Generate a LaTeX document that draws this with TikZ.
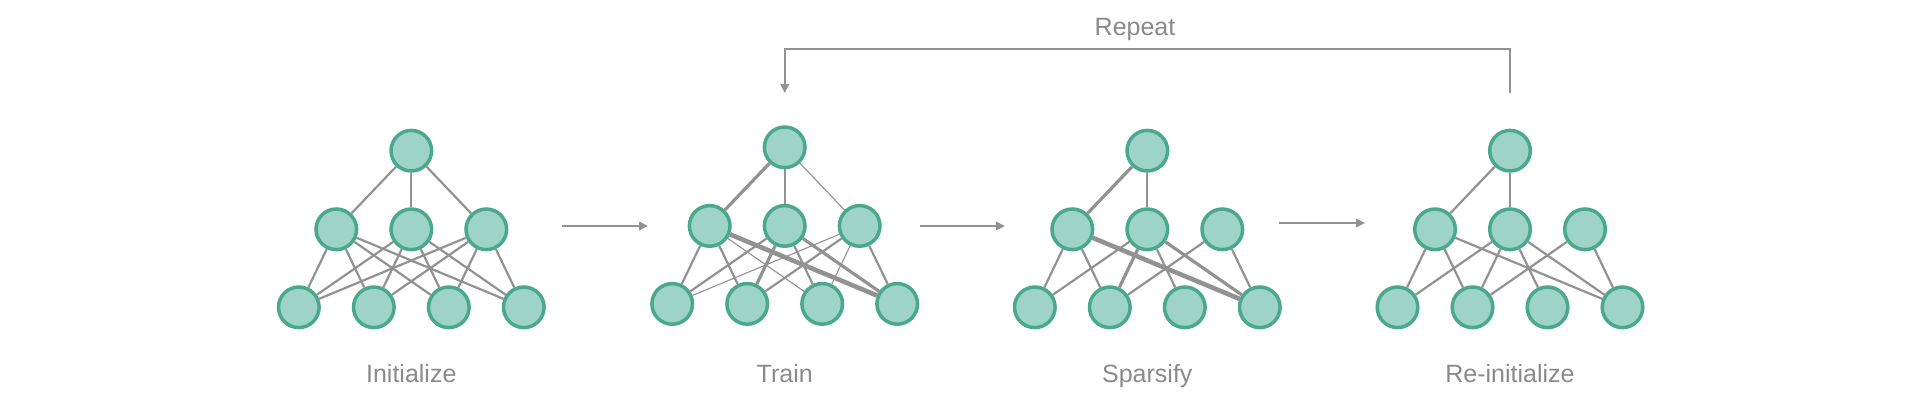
\documentclass[tikz,border=0pt]{standalone}
\usepackage{fontspec}
\setmainfont{Liberation Sans}
\usetikzlibrary{arrows.meta}
\definecolor{cellfill}{RGB}{157,212,199}
\definecolor{cellline}{RGB}{74,168,140}
\definecolor{wiregray}{RGB}{146,146,146}
\definecolor{textgray}{RGB}{138,138,138}

% one small network: #1 name, (#2,#3) centre of the top cell
\newcommand{\network}[3]{%
	\node[cell] (#1-t) at (#2,#3) {};
	\foreach \i/\dx in {1/-75,2/0,3/75}
		\node[cell] (#1-m\i) at (#2+\dx,#3+78.6) {};
	\foreach \i/\dx in {1/-112.5,2/-37.5,3/37.5,4/112.5}
		\node[cell] (#1-b\i) at (#2+\dx,#3+156.6) {};
}

\begin{document}
\begin{tikzpicture}[
		x=1pt,y=-1pt,
		cell/.style={circle,draw=cellline,fill=cellfill,line width=3.5pt,minimum size=40.6pt,inner sep=0pt},
		link/.style={draw=wiregray,line width=2.2pt},
		weak/.style={draw=wiregray,line width=1.1pt},
		strong/.style={draw=wiregray,line width=3.2pt},
		strongest/.style={draw=wiregray,line width=4.6pt},
		flow/.style={draw=wiregray,line width=2pt,-{Triangle[length=9pt,width=8.5pt]}},
		caption/.style={text=textgray,font=\fontsize{25}{30}\selectfont,anchor=base}
		]
		\useasboundingbox (0,0) rectangle (1920,400);
		
		\network{init}{411.3}{150.7}
		\network{train}{784.7}{147.3}
		\network{sparse}{1147.3}{150.7}
		\network{reinit}{1510}{150.7}
		
		% initialize: dense
		\foreach \m in {1,2,3} {
			\draw[link] (init-t) -- (init-m\m);
			\foreach \b in {1,...,4}
				\draw[link] (init-m\m) -- (init-b\b);
		}
		
		% train: weights of different size
		\draw[strong] (train-t) -- (train-m1);
		\draw[link] (train-t) -- (train-m2);
		\draw[weak] (train-t) -- (train-m3);
		\draw[link] (train-m1) -- (train-b1);
		\draw[link] (train-m1) -- (train-b2);
		\draw[weak] (train-m1) -- (train-b3);
		\draw[strongest] (train-m1) -- (train-b4);
		\draw[link] (train-m2) -- (train-b1);
		\draw[strong] (train-m2) -- (train-b2);
		\draw[link] (train-m2) -- (train-b3);
		\draw[strong] (train-m2) -- (train-b4);
		\draw[weak] (train-m3) -- (train-b1);
		\draw[link] (train-m3) -- (train-b2);
		\draw[weak] (train-m3) -- (train-b3);
		\draw[link] (train-m3) -- (train-b4);
		
		% sparsify: small weights removed
		\draw[strong] (sparse-t) -- (sparse-m1);
		\draw[link] (sparse-t) -- (sparse-m2);
		\draw[link] (sparse-m1) -- (sparse-b1);
		\draw[link] (sparse-m1) -- (sparse-b2);
		\draw[strongest] (sparse-m1) -- (sparse-b4);
		\draw[link] (sparse-m2) -- (sparse-b1);
		\draw[strong] (sparse-m2) -- (sparse-b2);
		\draw[link] (sparse-m2) -- (sparse-b3);
		\draw[strong] (sparse-m2) -- (sparse-b4);
		\draw[link] (sparse-m3) -- (sparse-b2);
		\draw[link] (sparse-m3) -- (sparse-b4);
		
		% re-initialize: same mask, fresh weights
		\foreach \a/\b in {t/m1,t/m2,m1/b1,m1/b2,m1/b4,m2/b1,m2/b2,m2/b3,m2/b4,m3/b2,m3/b4}
			\draw[link] (reinit-\a) -- (reinit-\b);
		
		% steps
		\coordinate (s1) at (562,226);
		\coordinate (e1) at (648,226);
		\coordinate (s2) at (920,226);
		\coordinate (e2) at (1005,226);
		\coordinate (s3) at (1279,223);
		\coordinate (e3) at (1365,223);
		\draw[flow] (s1) -- (e1);
		\draw[flow] (s2) -- (e2);
		\draw[flow] (s3) -- (e3);
		
		% loop back
		\coordinate (back-from) at (1510,93);
		\coordinate (back-to) at (784.7,93);
		\draw[flow] (back-from) -- ++(0,-44) -| (back-to);
		\node[caption] (repeat) at (1135,35) {Repeat};
		
		\node[caption] (l-init) at (411.3,382) {Initialize};
		\node[caption] (l-train) at (784.7,382) {Train};
		\node[caption] (l-sparse) at (1147.3,382) {Sparsify};
		\node[caption] (l-reinit) at (1510,382) {Re-initialize};
	\end{tikzpicture}
\end{document}
